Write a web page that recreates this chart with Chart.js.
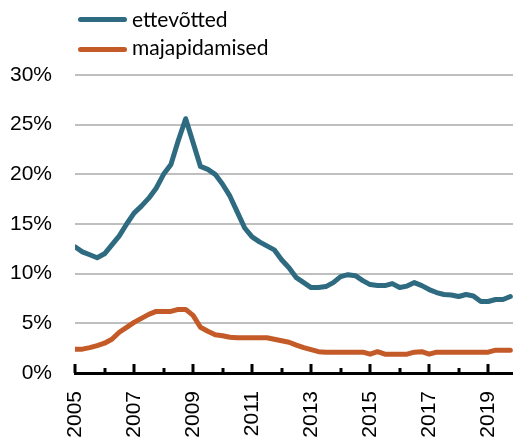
<!DOCTYPE html>
<html>
<head>
<meta charset="utf-8">
<script src="https://cdn.jsdelivr.net/npm/chart.js"></script>
<style>
  html, body { margin: 0; padding: 0; background: #fff; }
  #wrap { position: relative; width: 513px; height: 441px; }
  #chart { position: absolute; left: 0; top: 0; }
  .swatch { position: absolute; left: 78px; width: 49px; height: 5px; border-radius: 3px; }
  .label { position: absolute; left: 132px; font-family: Lato, sans-serif; font-size: 21px; line-height: 21px; color: #000; white-space: nowrap; }
</style>
</head>
<body>
<div id="wrap">
  <canvas id="chart" width="513" height="441"></canvas>
  <div class="swatch" style="top:17px; background:#2E6B80"></div>
  <div class="label" style="top:8px">ettevõtted</div>
  <div class="swatch" style="top:47px; background:#C45A27"></div>
  <div class="label" style="top:36px">majapidamised</div>
</div>
<script>
// quarterly, 2005 Q1 .. 2019 Q4
const startYear = 2005;
const firms = [
  12.7, 12.2, 11.9, 11.6, 12.0, 12.9, 13.8, 15.0,
  16.1, 16.8, 17.6, 18.6, 20.0, 21.0, 23.4, 25.6,
  23.2, 20.8, 20.5, 20.0, 19.0, 17.8, 16.2, 14.6,
  13.7, 13.2, 12.8, 12.4, 11.4, 10.6, 9.6, 9.1,
  8.6, 8.6, 8.7, 9.1, 9.7, 9.9, 9.8, 9.3,
  8.9, 8.8, 8.8, 9.0, 8.6, 8.75, 9.1, 8.8,
  8.4, 8.1, 7.9, 7.85, 7.7, 7.9, 7.75, 7.2,
  7.2, 7.4, 7.4, 7.7
];
const households = [
  2.4, 2.4, 2.55, 2.75, 3.0, 3.4, 4.1, 4.6,
  5.1, 5.5, 5.9, 6.2, 6.2, 6.2, 6.4, 6.4,
  5.8, 4.6, 4.2, 3.85, 3.75, 3.6, 3.55, 3.55,
  3.55, 3.55, 3.55, 3.4, 3.25, 3.1, 2.8, 2.55,
  2.35, 2.15, 2.1, 2.1, 2.1, 2.1, 2.1, 2.1,
  1.9, 2.15, 1.9, 1.9, 1.9, 1.9, 2.1, 2.15,
  1.9, 2.1, 2.1, 2.1, 2.1, 2.1, 2.1, 2.1,
  2.1, 2.3, 2.3, 2.3
];
const yearLabels = [2005, 2007, 2009, 2011, 2013, 2015, 2017, 2019];
const yTicks = [0, 5, 10, 15, 20, 25, 30];

const toPoints = arr => arr.map((v, i) => ({ x: startYear + i / 4, y: v }));

// small upward tick marks on the x axis, long on labelled years
const axisTicks = {
  id: 'axisTicks',
  afterDraw(chart) {
    const xs = chart.scales.x;
    const ctx = chart.ctx;
    ctx.save();
    ctx.fillStyle = '#000';
    for (let yr = 2005; yr <= 2019; yr++) {
      const px = Math.round(xs.getPixelForValue(yr));
      const len = yearLabels.includes(yr) ? 9 : 5;
      ctx.fillRect(px - 1.5, xs.top - len, 3, len);
    }
    ctx.restore();
  }
};

new Chart(document.getElementById('chart'), {
  type: 'line',
  data: {
    datasets: [
      { label: 'ettevõtted', data: toPoints(firms), borderColor: '#2E6B80' },
      { label: 'majapidamised', data: toPoints(households), borderColor: '#C45A27' }
    ]
  },
  options: {
    responsive: false,
    animation: false,
    devicePixelRatio: 1,
    layout: { padding: { top: 75, right: 0, left: 0, bottom: 0 } },
    elements: {
      point: { radius: 0 },
      line: { borderWidth: 5, tension: 0, borderJoinStyle: 'round', borderCapStyle: 'round', fill: false }
    },
    plugins: { legend: { display: false }, tooltip: { enabled: false } },
    scales: {
      x: {
        type: 'linear',
        min: 2005,
        max: 2019.84,
        afterBuildTicks: s => { s.ticks = yearLabels.map(v => ({ value: v })); },
        afterFit: s => { s.height = 68; s.paddingLeft = 0; s.paddingRight = 0; },
        grid: { display: false, drawTicks: false },
        border: { display: true, color: '#000', width: 3 },
        ticks: {
          autoSkip: false, minRotation: 90, maxRotation: 90, padding: 18,
          color: '#000', font: { family: 'Liberation Sans', size: 21 },
          callback: v => String(v)
        }
      },
      y: {
        min: 0,
        max: 30,
        afterBuildTicks: s => { s.ticks = yTicks.map(v => ({ value: v })); },
        afterFit: s => { s.width = 75; s.paddingTop = 0; s.paddingBottom = 0; },
        grid: {
          drawTicks: false, lineWidth: 2,
          color: c => (c.tick && c.tick.value === 0) ? 'rgba(0,0,0,0)' : '#BFBFBF'
        },
        border: { display: false },
        ticks: {
          padding: 23, color: '#000', font: { family: 'Liberation Sans', size: 21 },
          callback: v => v + '%'
        }
      }
    }
  },
  plugins: [axisTicks]
});
</script>
</body>
</html>
